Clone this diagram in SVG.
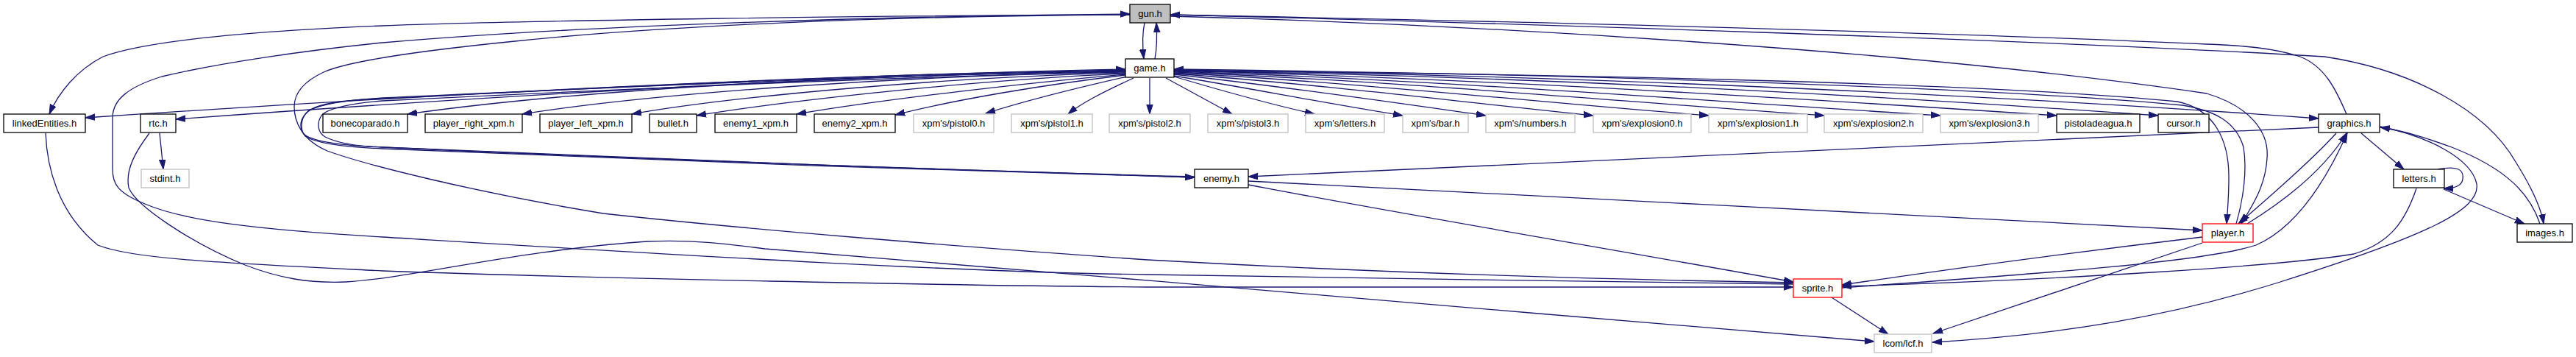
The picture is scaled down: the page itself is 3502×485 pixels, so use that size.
<svg xmlns="http://www.w3.org/2000/svg" width="3502" height="485" viewBox="0 0 3502 485">
<style>
.n rect{fill:#fff;stroke:#000;stroke-width:1.3}
.n.g rect{stroke:#bfbfbf}
.n.r rect{stroke:#ff0000}
.n.cur rect{fill:#bfbfbf}
.n text{font-family:"Liberation Sans",Arial,sans-serif;font-size:13px;text-anchor:middle;fill:#000}
#edges path{fill:none;stroke:#191970;stroke-width:1.3;marker-end:url(#a)}
</style>
<defs>
<marker id="a" markerWidth="14" markerHeight="10" refX="13" refY="5" orient="auto" markerUnits="userSpaceOnUse"><path d="M0,0.8 L13,5 L0,9.2 z" fill="#191970" stroke="#191970" stroke-width="1"/></marker>
</defs>
<rect width="3502" height="485" fill="#fff"/>
<g id="edges">
<path d="M1556,31 C1553,45 1553,62 1555,80"/>
<path d="M1570,80 C1573,65 1573,48 1572,31"/>
<path d="M1536,20 C1200,21 700,28 520,35 C350,42 200,55 140,77 C105,95 80,125 67,155"/>
<path d="M2438,386 C2200,384 1800,376 1560,373 C1300,370 900,345 520,322 C350,312 250,300 197,277 C160,262 153,250 153,230 L153,160 C153,135 175,118 220,104 C300,85 420,68 520,58 C800,34 1200,22 1536,19"/>
<path d="M1536,20 C1200,22 900,35 700,56 C600,66 480,80 440,98 C410,112 400,128 400,145 C400,165 410,190 445,205 C500,225 650,262 820,290 C1000,310 1300,335 1560,353 C1900,372 2200,380 2438,384"/>
<path d="M62,181 C64,230 80,290 133,333 C180,352 300,357 520,368 C800,378 1300,388 1560,390 C1900,391 2200,390 2438,390"/>
<path d="M217,181 L222,230"/>
<path d="M203,181 C185,205 170,230 175,255 C185,280 260,330 333,360 C380,378 420,385 470,383 C560,378 700,340 880,328 C950,325 1000,333 1040,338 C1300,360 1800,400 2080,425 C2300,443 2450,457 2548,464"/>
<path d="M1530,95 C1200,100 700,120 116,160"/>
<path d="M1530,96 C1200,100 700,128 239,162"/>
<path d="M1530,97 C1200,100 800,120 554,155"/>
<path d="M1530,98 C1250,102 900,125 710,155"/>
<path d="M1530,99 C1300,104 1000,130 859,155"/>
<path d="M1530,100 C1300,110 1050,140 947,157"/>
<path d="M1530,101 C1400,112 1200,135 1083,155"/>
<path d="M1530,102 C1420,115 1300,135 1217,156"/>
<path d="M1532,104 C1470,118 1400,135 1340,154"/>
<path d="M1541,106 C1500,125 1470,140 1452,155"/>
<path d="M1563,106 L1563,155"/>
<path d="M1585,106 L1675,155"/>
<path d="M1596,104 C1650,120 1720,140 1787,155"/>
<path d="M1596,103 C1700,120 1800,140 1907,157"/>
<path d="M1596,101 C1750,118 1900,140 2020,157"/>
<path d="M1596,100 C1800,115 2000,140 2166,157"/>
<path d="M1596,99 C1850,112 2100,140 2323,157"/>
<path d="M1596,98 C1900,110 2200,138 2480,157"/>
<path d="M1596,97 C1950,108 2300,136 2638,157"/>
<path d="M1596,96 C2000,106 2450,134 2796,157"/>
<path d="M1596,96 C2100,104 2550,130 2934,157"/>
<path d="M1596,95 C2200,103 2800,135 3152,161"/>
<path d="M1596,96 C2100,100 2700,112 2960,138 C3010,148 3030,190 3030,240 C3030,270 3028,290 3027,304"/>
<path d="M3040,304 C3050,270 3055,230 3050,200 C3040,165 3010,150 2967,143 C2700,118 2100,100 1596,94"/>
<path d="M1530,96 C1100,105 700,125 520,133 C470,136 430,142 417,153 C408,162 408,178 415,185 C430,195 470,200 520,202 C800,215 1300,233 1624,241"/>
<path d="M1624,240 C1300,232 800,213 520,200 C470,198 425,193 413,182 C406,172 408,160 420,150 C440,138 480,135 520,134 C800,120 1200,100 1530,94"/>
<path d="M1530,97 C1100,108 700,128 520,137 C480,140 445,147 437,157 C430,168 432,180 442,186 C460,195 490,199 520,200 C800,213 1300,232 1624,241"/>
<path d="M3152,173 C2900,185 2300,215 1697,240"/>
<path d="M1697,246 C2100,266 2600,293 2994,313"/>
<path d="M1697,251 C1900,290 2200,340 2438,383"/>
<path d="M2490,404 L2567,454"/>
<path d="M2994,330 L2628,453"/>
<path d="M2994,322 C2800,345 2600,373 2504,387"/>
<path d="M3285,256 C3270,300 3250,330 3200,345 C3100,362 2800,380 2504,389"/>
<path d="M2504,391 C2800,370 3000,355 3067,333 C3120,310 3160,250 3191,181"/>
<path d="M3236,172 C3300,185 3360,215 3367,250 C3372,285 3300,320 3100,383 C2950,430 2800,455 2627,465"/>
<path d="M3055,304 C3110,270 3160,230 3190,181"/>
<path d="M3176,181 C3150,210 3100,255 3043,304"/>
<path d="M3210,181 L3268,230"/>
<path d="M3314,230 C3340,225 3350,230 3348,243 C3347,254 3335,256 3322,256"/>
<path d="M3322,257 L3432,304"/>
<path d="M3453,304 C3440,265 3410,230 3333,200 C3300,188 3270,178 3236,173"/>
<path d="M1591,20 C2000,30 2800,55 3160,77 C3280,95 3380,150 3420,220 C3445,260 3455,285 3458,304"/>
<path d="M3190,155 C3175,120 3160,90 3127,77 C3090,65 3050,62 3000,60 C2600,42 2000,28 1591,20"/>
<path d="M1591,22 C2000,33 2600,68 3000,127 C3060,145 3085,180 3082,215 C3080,250 3065,275 3047,304"/>
</g>
<g id="n_gun" class="n cur"><rect x="1536" y="6" width="55" height="25"/><text x="1563.5" y="23">gun.h</text></g>
<g id="n_game" class="n"><rect x="1530" y="80" width="66" height="25"/><text x="1563" y="97">game.h</text></g>
<g id="n_linkedEntities" class="n"><rect x="5" y="155" width="111" height="25"/><text x="60.5" y="172">linkedEntities.h</text></g>
<g id="n_rtc" class="n"><rect x="191" y="155" width="48" height="25"/><text x="215" y="172">rtc.h</text></g>
<g id="n_stdint" class="n g"><rect x="192" y="230" width="65" height="25"/><text x="224.5" y="247">stdint.h</text></g>
<g id="n_bonecoparado" class="n"><rect x="439" y="155" width="115" height="25"/><text x="496.5" y="172">bonecoparado.h</text></g>
<g id="n_player_right_xpm" class="n"><rect x="578" y="155" width="132" height="25"/><text x="644" y="172">player_right_xpm.h</text></g>
<g id="n_player_left_xpm" class="n"><rect x="734" y="155" width="125" height="25"/><text x="796.5" y="172">player_left_xpm.h</text></g>
<g id="n_bullet" class="n"><rect x="883" y="155" width="64" height="25"/><text x="915" y="172">bullet.h</text></g>
<g id="n_enemy1_xpm" class="n"><rect x="972" y="155" width="111" height="25"/><text x="1027.5" y="172">enemy1_xpm.h</text></g>
<g id="n_enemy2_xpm" class="n"><rect x="1107" y="155" width="110" height="25"/><text x="1162" y="172">enemy2_xpm.h</text></g>
<g id="n_pistol0" class="n g"><rect x="1242" y="155" width="109" height="25"/><text x="1296.5" y="172">xpm's/pistol0.h</text></g>
<g id="n_pistol1" class="n g"><rect x="1375" y="155" width="110" height="25"/><text x="1430" y="172">xpm's/pistol1.h</text></g>
<g id="n_pistol2" class="n g"><rect x="1508" y="155" width="110" height="25"/><text x="1563" y="172">xpm's/pistol2.h</text></g>
<g id="n_pistol3" class="n g"><rect x="1642" y="155" width="109" height="25"/><text x="1696.5" y="172">xpm's/pistol3.h</text></g>
<g id="n_xletters" class="n g"><rect x="1775" y="155" width="107" height="25"/><text x="1828.5" y="172">xpm's/letters.h</text></g>
<g id="n_bar" class="n g"><rect x="1907" y="155" width="89" height="25"/><text x="1951.5" y="172">xpm's/bar.h</text></g>
<g id="n_numbers" class="n g"><rect x="2020" y="155" width="121" height="25"/><text x="2080.5" y="172">xpm's/numbers.h</text></g>
<g id="n_explosion0" class="n g"><rect x="2166" y="155" width="133" height="25"/><text x="2232.5" y="172">xpm's/explosion0.h</text></g>
<g id="n_explosion1" class="n g"><rect x="2323" y="155" width="134" height="25"/><text x="2390" y="172">xpm's/explosion1.h</text></g>
<g id="n_explosion2" class="n g"><rect x="2480" y="155" width="134" height="25"/><text x="2547" y="172">xpm's/explosion2.h</text></g>
<g id="n_explosion3" class="n g"><rect x="2638" y="155" width="133" height="25"/><text x="2704.5" y="172">xpm's/explosion3.h</text></g>
<g id="n_pistoladeagua" class="n"><rect x="2796" y="155" width="113" height="25"/><text x="2852.5" y="172">pistoladeagua.h</text></g>
<g id="n_cursor" class="n"><rect x="2934" y="155" width="69" height="25"/><text x="2968.5" y="172">cursor.h</text></g>
<g id="n_graphics" class="n"><rect x="3152" y="155" width="83" height="25"/><text x="3193.5" y="172">graphics.h</text></g>
<g id="n_enemy" class="n"><rect x="1624" y="230" width="73" height="25"/><text x="1660.5" y="247">enemy.h</text></g>
<g id="n_letters" class="n"><rect x="3254" y="230" width="69" height="25"/><text x="3288.5" y="247">letters.h</text></g>
<g id="n_player" class="n r"><rect x="2994" y="304" width="69" height="25"/><text x="3028.5" y="321">player.h</text></g>
<g id="n_images" class="n"><rect x="3422" y="304" width="75" height="25"/><text x="3459.5" y="321">images.h</text></g>
<g id="n_sprite" class="n r"><rect x="2438" y="379" width="66" height="25"/><text x="2471" y="396">sprite.h</text></g>
<g id="n_lcf" class="n g"><rect x="2548" y="454" width="78" height="25"/><text x="2587" y="471">lcom/lcf.h</text></g>
</svg>
